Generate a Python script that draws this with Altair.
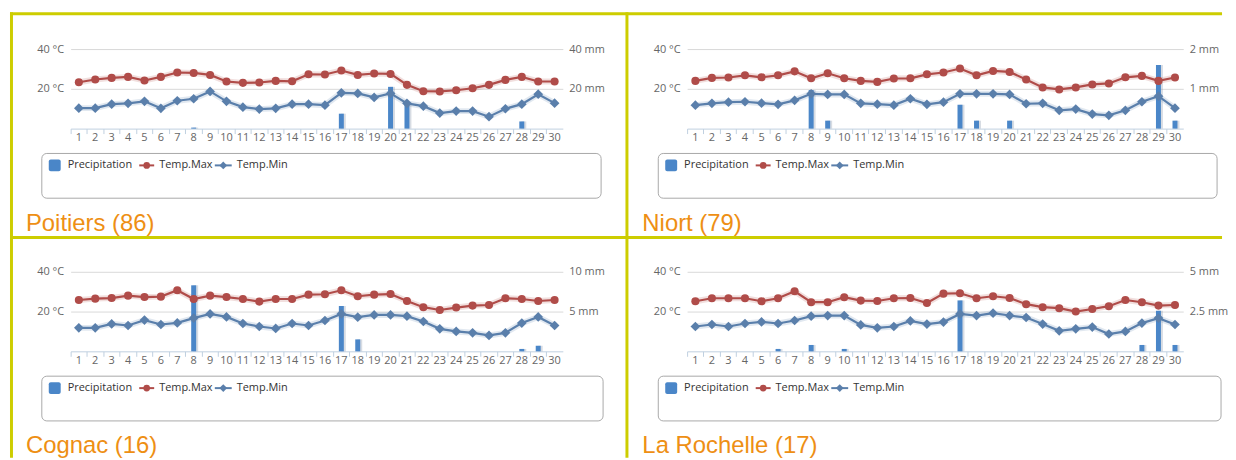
import altair as alt
import pandas as pd

# ---------------- data ----------------
days = list(range(1, 31))

poitiers_max = [23.3, 24.7, 25.5, 26.0, 24.2, 26.0, 28.2, 28.0, 27.0, 23.7, 23.0, 23.2, 24.0, 23.8, 27.3,
                27.2, 29.2, 27.0, 27.7, 27.5, 22.0, 18.8, 18.7, 19.3, 20.3, 22.0, 24.5, 26.0, 23.7, 23.7]
poitiers_min = [10.3, 10.3, 12.3, 12.7, 13.7, 10.2, 14.0, 15.0, 18.7, 13.7, 10.8, 9.8, 10.2, 12.3, 12.3,
                11.8, 18.0, 17.7, 15.7, 17.7, 12.7, 11.3, 7.8, 8.8, 8.8, 6.0, 10.0, 12.3, 17.3, 12.8]
poitiers_prec = [0, 0, 0, 0, 0, 0, 0, 0.5, 0, 0, 0, 0, 0, 0, 0,
                 0, 7.5, 0, 0, 21.0, 13.3, 0, 0, 0, 0, 0, 0, 3.6, 0, 0]

niort_max = [24.0, 25.5, 25.7, 26.8, 25.8, 26.8, 28.8, 25.3, 27.8, 25.3, 24.0, 23.5, 25.2, 25.3, 27.3,
             28.2, 30.2, 26.8, 29.0, 28.5, 24.7, 20.7, 19.7, 20.7, 22.2, 22.7, 25.8, 26.5, 24.0, 25.7]
niort_min = [11.8, 12.7, 13.3, 13.5, 12.8, 12.2, 14.2, 17.5, 17.2, 17.2, 12.7, 12.3, 11.8, 15.0, 12.2,
             13.3, 17.5, 17.5, 17.5, 17.2, 12.5, 12.7, 9.2, 9.8, 7.3, 6.7, 9.2, 13.5, 16.3, 10.3]
niort_prec = [0, 0, 0, 0, 0, 0, 0, 0.97, 0.2, 0, 0, 0, 0, 0, 0,
              0, 0.6, 0.2, 0, 0.2, 0, 0, 0, 0, 0, 0, 0, 0, 1.6, 0.2]

cognac_max = [25.8, 26.5, 26.8, 28.0, 27.3, 27.5, 30.7, 26.3, 28.0, 27.3, 26.3, 25.0, 26.3, 26.3, 28.5,
              28.7, 30.7, 27.7, 28.5, 28.8, 25.3, 22.2, 20.8, 22.0, 23.0, 23.3, 26.7, 26.3, 25.3, 25.8]
cognac_min = [11.8, 11.8, 13.8, 13.0, 15.7, 13.5, 14.3, 16.7, 18.8, 17.3, 14.0, 12.5, 11.5, 14.0, 13.0,
              15.5, 18.8, 17.2, 18.3, 18.3, 17.7, 15.0, 11.3, 10.0, 9.3, 8.0, 9.3, 14.2, 17.3, 13.0]
cognac_prec = [0, 0, 0, 0, 0, 0, 0, 8.3, 0, 0, 0, 0, 0, 0, 0,
               0, 5.7, 1.5, 0, 0, 0, 0, 0, 0, 0, 0, 0, 0.3, 0.7, 0]

rochelle_max = [25.2, 26.7, 26.7, 26.7, 25.2, 26.7, 30.2, 24.7, 24.7, 27.2, 25.5, 25.3, 26.7, 26.8, 24.3,
                29.0, 29.2, 26.7, 27.7, 26.8, 23.7, 22.2, 21.7, 20.0, 21.3, 22.7, 25.8, 24.7, 23.0, 23.3]
rochelle_min = [12.5, 13.5, 12.5, 14.0, 14.8, 14.0, 15.5, 17.7, 18.0, 18.0, 13.3, 11.8, 12.5, 15.3, 13.7,
                14.7, 18.8, 18.0, 19.2, 18.0, 17.0, 13.7, 10.3, 11.3, 12.2, 8.7, 10.0, 14.2, 16.7, 13.5]
rochelle_prec = [0, 0, 0, 0, 0, 0.15, 0, 0.4, 0, 0.15, 0, 0, 0, 0, 0,
                 0, 3.2, 0, 0, 0, 0, 0, 0, 0, 0, 0, 0, 0.4, 2.55, 0.4]

titles = ["Poitiers (86)", "Niort (79)", "Cognac (16)", "La Rochelle (17)"]
prec_max = [40, 2, 10, 5]
series_names = ["Precipitation", "Temp.Max", "Temp.Min"]

# ---------------- styles ----------------
FONT = "Open Sans"
YELLOW = "#cdcd00"
ORANGE = "#ee8f14"
C_PREC = "#4a86c8"
C_MAX = "#b04c49"
C_MIN = "#5a7fab"
AXIS_GRAY = "#666666"

one = pd.DataFrame({"k": [0]})


def rule(x, x2, y, y2, color, width):
    return alt.Chart(one).mark_rule(color=color, strokeWidth=width).encode(
        x=alt.value(x), x2=alt.value(x2), y=alt.value(y), y2=alt.value(y2))


def rect(x, x2, y, y2, **kw):
    return alt.Chart(one).mark_rect(**kw).encode(
        x=alt.value(x), x2=alt.value(x2), y=alt.value(y), y2=alt.value(y2))


def sym(x, y, shape, color, size):
    return alt.Chart(one).mark_point(filled=True, shape=shape, color=color, size=size, opacity=1).encode(
        x=alt.value(x), y=alt.value(y))


def txt(x, y, s, **kw):
    return alt.Chart(one).mark_text(align="left", **kw).encode(
        x=alt.value(x), y=alt.value(y), text=alt.value(s))


def legend(bx0, bx1, by0, by1):
    cy = by0 + 12
    return [
        rect(bx0, bx1, by0, by1, fill="white", stroke="#a8a8a8", strokeWidth=1, cornerRadius=5),
        rect(bx0 + 7, bx0 + 19, cy - 6, cy + 6, fill=C_PREC, cornerRadius=2),
        txt(bx0 + 26, cy, series_names[0], baseline="middle", font=FONT, fontSize=11, color="#333333"),
        rule(bx0 + 98, bx0 + 113, cy, cy, C_MAX, 2),
        sym(bx0 + 105.5, cy, "circle", C_MAX, 45),
        txt(bx0 + 118, cy, series_names[1], baseline="middle", font=FONT, fontSize=11, color="#333333"),
        rule(bx0 + 174, bx0 + 191, cy, cy, C_MIN, 2),
        sym(bx0 + 182.5, cy, "diamond", C_MIN, 60),
        txt(bx0 + 196, cy, series_names[2], baseline="middle", font=FONT, fontSize=11, color="#333333"),
    ]


def panel(title, tmax, tmin, prec, pmax, w, box_x1, extra=None):
    df = pd.DataFrame({"day": days, "tmax": tmax, "tmin": tmin, "prec": prec})
    base = alt.Chart(df)
    xs = alt.Scale(type="band", paddingInner=0, paddingOuter=0)
    ax_lab = alt.Axis(orient="bottom", title=None, ticks=False, domain=False, labelAngle=0, labelPadding=3,
                      labelFont=FONT, labelFontSize=11, labelColor=AXIS_GRAY, grid=False)
    ax_tick = alt.Axis(orient="bottom", title=None, labels=False, domain=True, domainColor="#C0D0E0",
                       ticks=True, tickColor="#C0D0E0", tickSize=5, bandPosition=0, grid=False)
    x_lab = alt.X("day:O", scale=xs, axis=ax_lab)
    x_tick = alt.X("day:O", scale=xs, axis=ax_tick)

    ax_prec = alt.Axis(orient="right", title=None, values=[pmax / 2, pmax], labelExpr="datum.value + ' mm'",
                       grid=False, ticks=False, domain=False, labelPadding=6, labelFont=FONT, labelFontSize=11,
                       labelColor=AXIS_GRAY)
    ps = alt.Scale(domain=[0, pmax], nice=False, zero=True)
    shadow = base.mark_bar(width=5, xOffset=2, color="#8c9ab0", opacity=0.35).encode(
        x=x_lab, y=alt.Y("prec:Q", scale=ps, axis=ax_prec))
    bar = base.mark_bar(width=5, color=C_PREC).encode(
        x=x_lab, y=alt.Y("prec:Q", scale=ps, axis=ax_prec))
    bars = alt.layer(shadow, bar)

    ax_t = alt.Axis(orient="left", title=None, values=[20, 40], labelExpr="datum.value + ' °C'", grid=True,
                    gridColor="#d9d9d9", ticks=False, domain=False, labelPadding=7, labelFont=FONT,
                    labelFontSize=11, labelColor=AXIS_GRAY)
    ts = alt.Scale(domain=[0, 40], nice=False)

    def tlayers(field, color, shape, size):
        y = alt.Y(f"{field}:Q", scale=ts, axis=ax_t)
        return [
            base.mark_line(color=color, strokeWidth=6, opacity=0.18).encode(x=x_tick, y=y),
            base.mark_line(color=color, strokeWidth=2.2).encode(x=x_tick, y=y),
            base.mark_point(filled=True, shape=shape, color=color, size=size, opacity=1).encode(x=x_tick, y=y),
        ]

    temps = alt.layer(*(tlayers("tmax", C_MAX, "circle", 66) + tlayers("tmin", C_MIN, "diamond", 95)))
    data_layer = alt.layer(bars, temps).resolve_scale(y="independent").resolve_axis(x="independent")

    decos = list(extra or []) + legend(-29, box_x1, 105, 150)
    ttl = txt(-45, 182.5, title, baseline="alphabetic", font="Liberation Sans", fontSize=24, color=ORANGE)
    return alt.layer(*decos, data_layer, ttl).properties(width=w, height=80)


# frame (yellow grid) drawn relative to the first panel's plot origin
frame = [
    rule(-62, -62, -39, -38.5, "white", 1),
    rule(-59.5, -59.5, -37, 411, YELLOW, 3),
    rule(559.5, 559.5, -37, 411, YELLOW, 3),
    rule(-61, 1158, -35.5, -35.5, YELLOW, 3),
    rule(-61, 1158, 189.5, 189.5, YELLOW, 3),
]

p1 = panel(titles[0], poitiers_max, poitiers_min, poitiers_prec, prec_max[0], 495, 533.5, extra=frame)
p2 = panel(titles[1], niort_max, niort_min, niort_prec, prec_max[1], 499, 533)
p3 = panel(titles[2], cognac_max, cognac_min, cognac_prec, prec_max[2], 495, 535.5)
p4 = panel(titles[3], rochelle_max, rochelle_min, rochelle_prec, prec_max[3], 499, 537)

chart = alt.concat(p1, p2, p3, p4, columns=2, spacing={"row": 144, "column": 125}, bounds="flush").properties(
    padding=0
).configure_view(stroke=None)

chart.save("out.html", embed_options={"renderer": "svg", "actions": False})
